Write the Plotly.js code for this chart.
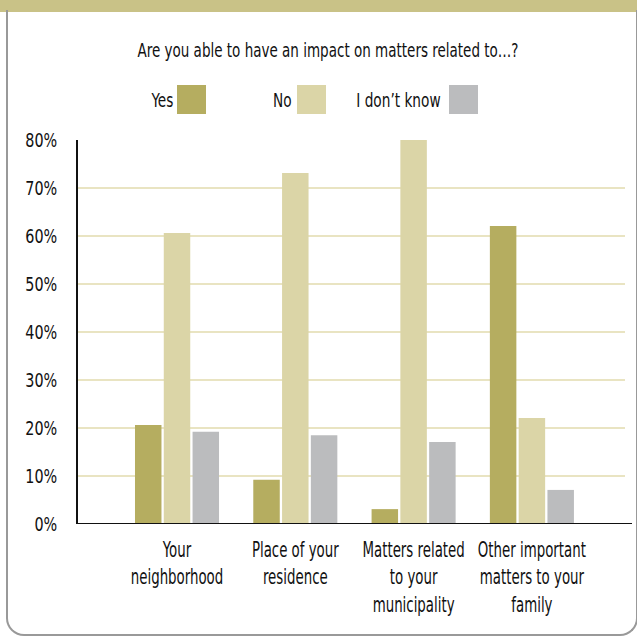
<!DOCTYPE html>
<html>
<head>
<meta charset="utf-8">
<script src="https://cdn.plot.ly/plotly-3.0.1.min.js"></script>
<style>
  html, body { margin:0; padding:0; width:637px; height:637px; overflow:hidden; background:#fff; }
  #band { position:absolute; left:0; top:0; width:637px; height:12px; background:#c9c287; }
  #frame { position:absolute; left:6px; top:10px; width:632px; height:626px; border:2px solid #999;
           border-top:none; border-radius:0 0 18px 18px; box-sizing:border-box; }
  #chart { position:absolute; left:0; top:0; width:637px; height:637px; }
</style>
</head>
<body>
<div id="band"></div>
<div id="frame"></div>
<div id="chart"></div>
<script>
const categories = [
  "Your<br>neighborhood",
  "Place of your<br>residence",
  "Matters related<br>to your<br>municipality",
  "Other important<br>matters to your<br>family"
];
const seriesNames = ["Yes", "No", "I don\u2019t know"];
const yesValues = [20.6, 9.2, 3.1, 62.1];
const noValues = [60.6, 73.1, 80.2, 22.1];
const dontKnowValues = [19.2, 18.5, 17.1, 7.1];
const yTickValues = [0, 10, 20, 30, 40, 50, 60, 70, 80];
const yTickLabels = ["0%", "10%", "20%", "30%", "40%", "50%", "60%", "70%", "80%"];
const titleText = "Are you able to have an impact on matters related to\u2026?";

const colors = ["#b5ad60", "#dbd5a7", "#bbbcbe"];
const FONT = "'DejaVu Sans Condensed', 'DejaVu Sans', sans-serif";

const W = 637, H = 637;
const L = 78, R = 12, T = 140, B = 113;
const pw = W - L - R, ph = H - T - B;
const px2x = p => (p - L) / pw;
const py2y = p => (H - B - p) / ph;

const allValues = [yesValues, noValues, dontKnowValues];
const traces = seriesNames.map((name, i) => ({
  type: "bar",
  name: name,
  x: categories.map((c, k) => k),
  y: allValues[i],
  marker: { color: colors[i], line: { width: 0 } },
  hoverinfo: "skip"
}));

// manual legend: text followed by its swatch on the right
const legendLayout = [
  { textCenter: 161.5, sw: 177 },
  { textCenter: 282, sw: 297 },
  { textCenter: 398.5, sw: 449 }
];
const annotations = [];
const shapes = [];
seriesNames.forEach((name, i) => {
  const it = legendLayout[i];
  annotations.push({
    xref: "paper", yref: "paper",
    x: px2x(it.textCenter), y: py2y(100),
    xanchor: "center", yanchor: "middle",
    text: name, showarrow: false,
    font: { family: FONT, size: 20, color: "#111" }
  });
  shapes.push({
    type: "rect", xref: "paper", yref: "paper",
    x0: px2x(it.sw), x1: px2x(it.sw + 29),
    y0: py2y(114), y1: py2y(85),
    fillcolor: colors[i], line: { width: 0 }
  });
});
// baseline extends slightly past the gridlines
shapes.push({
  type: "line", xref: "paper", yref: "y",
  x0: 0, x1: px2x(632), y0: 0, y1: 0,
  line: { color: "#111", width: 2 }
});

const layout = {
  width: W, height: H,
  margin: { l: L, r: R, t: T, b: B, pad: 0 },
  paper_bgcolor: "rgba(0,0,0,0)",
  plot_bgcolor: "rgba(0,0,0,0)",
  showlegend: false,
  barmode: "group",
  bargap: 0.27,
  bargroupgap: 0.08,
  title: {
    text: titleText,
    xref: "container", yref: "container",
    x: 328 / W, y: 1 - 50 / H,
    xanchor: "center", yanchor: "middle",
    font: { family: FONT, size: 19, color: "#111" }
  },
  xaxis: {
    range: [-0.837, 3.787],
    tickmode: "array",
    tickvals: categories.map((c, k) => k),
    ticktext: categories,
    tickangle: 0,
    showgrid: false,
    zeroline: false,
    showline: false,
    ticks: "",
    ticklabelstandoff: 10,
    tickfont: { family: FONT, size: 21.5, color: "#111" },
    fixedrange: true
  },
  yaxis: {
    range: [0, 80],
    tickmode: "array",
    tickvals: yTickValues,
    ticktext: yTickLabels,
    showgrid: true,
    gridcolor: "#e9e4c2",
    gridwidth: 2,
    zeroline: false,
    showline: true,
    linecolor: "#111",
    linewidth: 2,
    ticks: "",
    ticklabelstandoff: 15,
    tickfont: { family: FONT, size: 19, color: "#111" },
    fixedrange: true
  },
  annotations: annotations,
  shapes: shapes
};

// narrow the glyphs to imitate the condensed face of the original
function condense(gd) {
  gd.querySelectorAll("svg text").forEach(t => {
    let factor = 0.76;
    if (t.closest(".ytick")) factor = 0.84;
    if (t.closest(".xtick")) factor = 0.69;
    if (t.closest(".g-gtitle")) factor = 0.79;
    const lines = t.querySelectorAll("tspan.line");
    const targets = lines.length ? Array.from(lines) : [t];
    targets.forEach(el => {
      const len = el.getComputedTextLength();
      if (len > 0) {
        el.setAttribute("textLength", (len * factor).toFixed(2));
        el.setAttribute("lengthAdjust", "spacingAndGlyphs");
      }
    });
  });
}

Plotly.newPlot("chart", traces, layout, { displayModeBar: false, staticPlot: true })
  .then(gd => condense(gd));
</script>
</body>
</html>
